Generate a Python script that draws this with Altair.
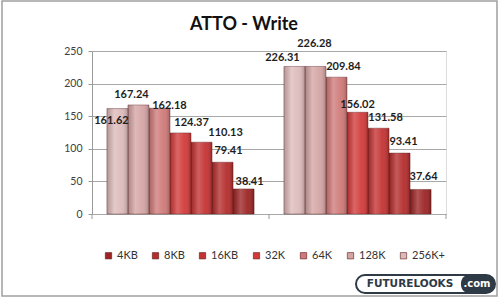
import altair as alt
import pandas as pd

# ---- data ----
groups = ["Write", "Read"]
sizes = ["4KB", "8KB", "16KB", "32K", "64K", "128K", "256K+"]
write_vals = [38.41, 79.41, 110.13, 124.37, 162.18, 167.24, 161.62]
read_vals = [37.64, 93.41, 131.58, 156.02, 209.84, 226.28, 226.31]
colors = ["#9c2424", "#b42c2c", "#c43232", "#d23a3a", "#cf7a78", "#d5a4a4", "#ddbaba"]

rows = []
for g, vals in zip(groups, [write_vals, read_vals]):
    for s, v in zip(sizes, vals):
        rows.append({"group": g, "size": s, "value": v, "label": f"{v:.2f}"})
df = pd.DataFrame(rows)

# ---- layout / style (not data) ----
W, H = 354, 163
bar_order = sizes[::-1]
# label nudges (dx, dy) in pixels relative to bar top-centre, per group/size
nudges = {
    ("Write", "256K+"): (-6, 12), ("Write", "128K"): (-7, -10), ("Write", "64K"): (10, -2),
    ("Write", "32K"): (11, -10), ("Write", "16KB"): (24, -9), ("Write", "8KB"): (6, -11),
    ("Write", "4KB"): (6, -7),
    ("Read", "256K+"): (-12, -8), ("Read", "128K"): (-1, -22), ("Read", "64K"): (7, -10),
    ("Read", "32K"): (0, -7), ("Read", "16KB"): (7, -10), ("Read", "8KB"): (4, -11),
    ("Read", "4KB"): (3, -12),
}

FONT = "Lato"
AX = "#9a9a9a"

x_enc = alt.X("group:N", sort=groups, title=None,
              scale=alt.Scale(paddingInner=0, paddingOuter=0),
              axis=alt.Axis(ticks=False, labelPadding=14, labelFont=FONT, labelFontSize=11,
                            labelColor="#333333", labelAngle=0, domainColor=AX,
                            domainWidth=1, grid=False))
xo_enc = alt.XOffset("size:N", sort=bar_order,
                     scale=alt.Scale(paddingInner=0, paddingOuter=0.71))
y_enc = alt.Y("value:Q", title=None, scale=alt.Scale(domain=[0, 250], nice=False),
              axis=alt.Axis(values=[0, 50, 100, 150, 200, 250], tickSize=4, tickColor=AX,
                            labelPadding=6, labelFont=FONT, labelFontSize=10.5,
                            labelOverlap=False, labelColor="#404040", domainColor=AX,
                            gridColor="#a8a8a8", gridWidth=1))

base = alt.Chart(df)

bars = base.mark_bar(stroke="#5a1a1a", strokeWidth=0.6, strokeOpacity=0.7).encode(
    x=x_enc, xOffset=xo_enc, y=y_enc,
    color=alt.Color("size:N", sort=sizes,
                    scale=alt.Scale(domain=sizes, range=colors),
                    legend=alt.Legend(title=None, orient="none", direction="horizontal",
                                      columns=7, legendX=11, legendY=199,
                                      symbolType="square", symbolSize=40,
                                      symbolStrokeColor="#5a1a1a", symbolStrokeWidth=0.6,
                                      labelFont=FONT, labelFontSize=11, labelColor="#333333",
                                      labelOffset=3, columnPadding=12, padding=0)),
)

shade = base.mark_bar(color=alt.LinearGradient(
    gradient="linear", x1=0, x2=1, y1=0, y2=0,
    stops=[alt.GradientStop(color="rgba(0,0,0,0.18)", offset=0),
           alt.GradientStop(color="rgba(255,255,255,0.22)", offset=0.35),
           alt.GradientStop(color="rgba(255,255,255,0.05)", offset=0.7),
           alt.GradientStop(color="rgba(0,0,0,0.22)", offset=1)])).encode(
    x=x_enc, xOffset=xo_enc, y=y_enc)

label_layers = []
for (g, s), (dx, dy) in nudges.items():
    label_layers.append(
        base.transform_filter((alt.datum.group == g) & (alt.datum.size == s))
        .mark_text(dx=dx, dy=dy, font=FONT, fontSize=11, fontWeight="bold",
                   color="#1e1e1e", baseline="middle")
        .encode(x=x_enc, xOffset=xo_enc, y=y_enc, text="label:N")
    )

# category ticks at group boundaries
ticks = base.transform_filter(alt.datum.size == "4KB").mark_rule(color=AX).encode(
    x=alt.X("group:N", sort=groups, bandPosition=0, axis=None), y=alt.value(H), y2=alt.value(H + 5))
end_tick = alt.Chart(pd.DataFrame({"a": [0]})).mark_rule(color=AX).encode(
    x=alt.value(W), y=alt.value(H), y2=alt.value(H + 5))

# title, outer frame and watermark
deco = pd.DataFrame({"a": [0]})
title = alt.Chart(deco).mark_text(text="ATTO - Write", font=FONT, fontSize=18,
                                  fontWeight="bold", color="#111111",
                                  baseline="middle").encode(
    x=alt.value(152), y=alt.value(-26))
frame = alt.Chart(deco).mark_rect(filled=False, stroke="#a0a0a0", strokeWidth=1.5).encode(
    x=alt.value(-90), x2=alt.value(405), y=alt.value(-50), y2=alt.value(245))
pill = alt.Chart(deco).mark_rect(fill="white", stroke="#2e3a46", strokeWidth=2,
                                 cornerRadius=9).encode(
    x=alt.value(264), x2=alt.value(403), y=alt.value(224), y2=alt.value(242))
pill_dark = alt.Chart(deco).mark_rect(fill="#2e3a46", cornerRadius=8).encode(
    x=alt.value(369), x2=alt.value(403), y=alt.value(224), y2=alt.value(242))
logo_txt = alt.Chart(deco).mark_text(text="FUTURELOOKS", font="DejaVu Sans", fontSize=10.5,
                                     fontWeight="bold", color="#2e3a46").encode(
    x=alt.value(318), y=alt.value(233))
logo_com = alt.Chart(deco).mark_text(text=".com", font="DejaVu Sans", fontSize=10,
                                     fontWeight="bold", color="white").encode(
    x=alt.value(385), y=alt.value(233))

chart = alt.layer(bars, shade, *label_layers, ticks, end_tick, title, frame, pill, pill_dark,
                  logo_txt, logo_com).properties(
    width=W, height=H,
    autosize=alt.AutoSizeParams(type="none"),
    padding={"left": 92, "top": 51, "right": 54, "bottom": 84},
).configure_view(strokeWidth=0).configure(background="white")

chart.save("out.html", embed_options={"renderer": "svg", "actions": False})
